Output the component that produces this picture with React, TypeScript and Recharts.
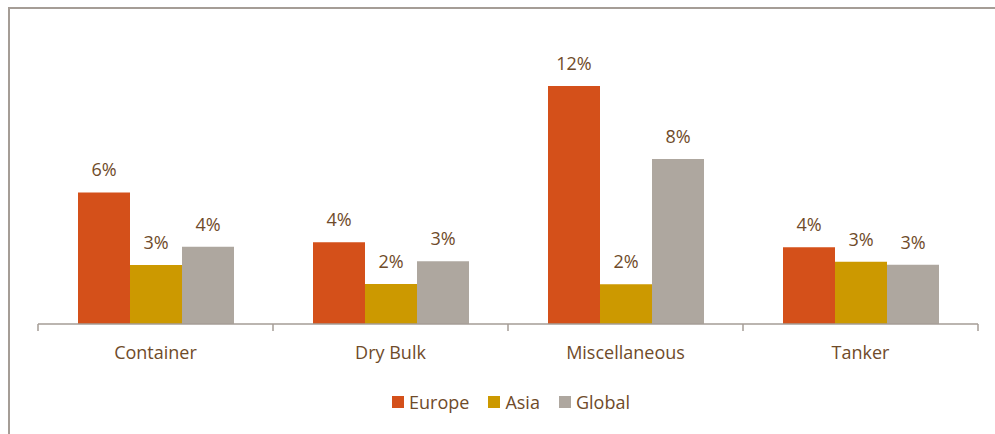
import React from 'react';
import { BarChart, Bar, XAxis, YAxis, Legend, LabelList } from 'recharts';

const categories = ['Container', 'Dry Bulk', 'Miscellaneous', 'Tanker'];
const europe = [6.42, 3.99, 11.61, 3.74];
const asia = [2.88, 1.95, 1.94, 3.04];
const globalVals = [3.77, 3.06, 8.05, 2.89];
const seriesNames = ['Europe', 'Asia', 'Global'];
const seriesColors = ['#D4501A', '#CC9900', '#AEA79F'];

const data = categories.map((name, i) => ({
  name,
  Europe: europe[i],
  Asia: asia[i],
  Global: globalVals[i],
}));

const TEXT = '#6F4B2A';
const LINE = '#A59D96';
const FONT = '"Open Sans", sans-serif';
const TICK_MARGIN = 22;

const fmt = (v: any) => `${Math.round(Number(v))}%`;

const CatTick = (props: any) => {
  const { x, y, payload, index } = props;
  const half = payload && payload.offset ? payload.offset : 117.5;
  const axisY = y - TICK_MARGIN;
  const last = index === categories.length - 1;
  return (
    <g>
      <line x1={x - half} x2={x - half} y1={axisY} y2={axisY + 7} stroke={LINE} strokeWidth={1.5} />
      {last && <line x1={x + half} x2={x + half} y1={axisY} y2={axisY + 7} stroke={LINE} strokeWidth={1.5} />}
      <text x={x} y={y} dy="0.71em" textAnchor="middle" fill={TEXT} fontSize={18} fontFamily={FONT}>
        {payload.value}
      </text>
    </g>
  );
};

const LegendContent = () => (
  <div
    style={{
      display: 'flex',
      justifyContent: 'center',
      alignItems: 'center',
      height: 24,
      paddingLeft: 6,
      fontFamily: FONT,
      fontSize: 18,
      color: TEXT,
    }}
  >
    {seriesNames.map((s, i) => (
      <div key={s} style={{ display: 'flex', alignItems: 'center', marginRight: i < seriesNames.length - 1 ? 19 : 0 }}>
        <span style={{ display: 'inline-block', width: 12, height: 12, background: seriesColors[i], marginRight: 5 }} />
        <span>{s}</span>
      </div>
    ))}
  </div>
);

export default function App() {
  return (
    <div style={{ position: 'absolute', left: 0, top: 0, width: 995, height: 434, background: '#fff' }}>
      <div
        style={{
          position: 'absolute',
          left: 8,
          top: 7,
          right: 0,
          bottom: 0,
          borderTop: `2px solid ${LINE}`,
          borderLeft: `2px solid ${LINE}`,
        }}
      />
      <BarChart
        width={995}
        height={434}
        data={data}
        margin={{ top: 37, right: 17, left: 38, bottom: 20 }}
        barGap={0}
        barSize={52}
        style={{ fontFamily: FONT, position: 'absolute', left: 0, top: 0 }}
      >
        <XAxis
          dataKey="name"
          axisLine={{ stroke: LINE, strokeWidth: 1.5 }}
          tickLine={false}
          tickSize={0}
          tickMargin={TICK_MARGIN}
          height={66}
          tick={<CatTick />}
          interval={0}
        />
        <YAxis hide domain={[0, 14]} />
        <Legend verticalAlign="bottom" content={<LegendContent />} />
        {seriesNames.map((s, i) => (
          <Bar key={s} dataKey={s} fill={seriesColors[i]} isAnimationActive={false}>
            <LabelList
              dataKey={s}
              position="top"
              offset={16}
              formatter={fmt}
              style={{ fill: TEXT, fontSize: 18, fontFamily: FONT }}
            />
          </Bar>
        ))}
      </BarChart>
    </div>
  );
}
